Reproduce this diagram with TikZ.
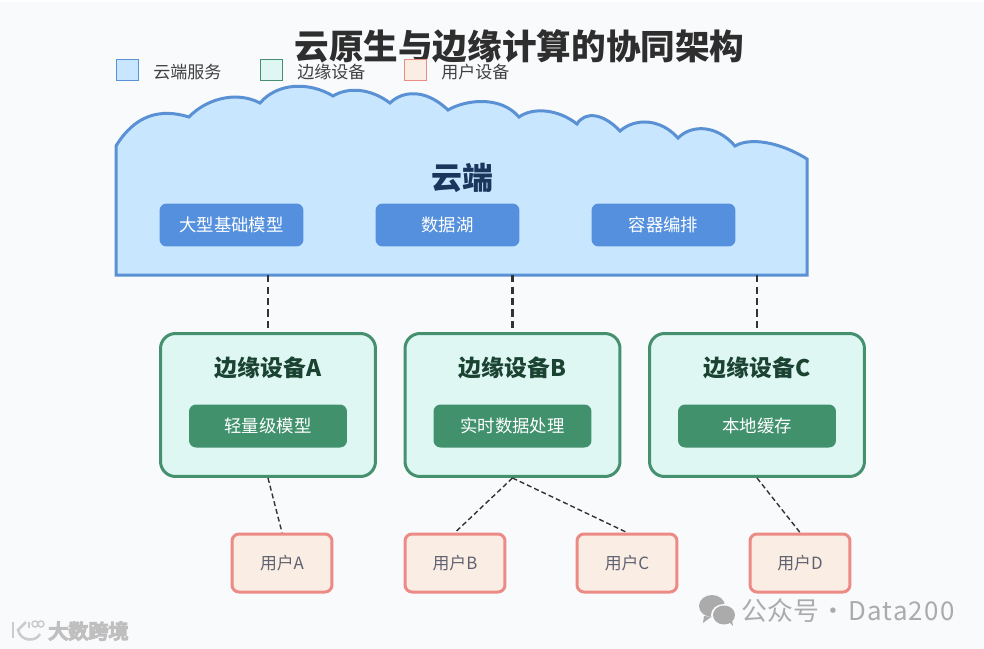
\documentclass[tikz,border=0pt]{standalone}
\usepackage{fontspec}
\setmainfont{Noto Sans CJK SC}
\definecolor{pagebg}{HTML}{F8FAFC}
\definecolor{cloudfill}{HTML}{C8E7FF}
\definecolor{cloudline}{HTML}{5A91D4}
\definecolor{cloudbox}{HTML}{5490DD}
\definecolor{cloudtext}{HTML}{1A365D}
\definecolor{edgefill}{HTML}{DFF7F3}
\definecolor{edgeline}{HTML}{44906F}
\definecolor{edgebox}{HTML}{40916C}
\definecolor{edgetext}{HTML}{1B4332}
\definecolor{userfill}{HTML}{FAEDE4}
\definecolor{userline}{HTML}{EC8A85}
\definecolor{usertext}{HTML}{5F6270}
\definecolor{marktext}{HTML}{ABABAB}
\definecolor{glowtext}{HTML}{CCCCCC}
\tikzset{
    legendbox/.style={draw,line width=0.035cm,minimum width=0.44cm,minimum height=0.42cm,inner sep=0pt},
    legendtext/.style={anchor=west,inner sep=0pt,text=black!75,font=\fontsize{9.7}{12}\selectfont},
    cloudtask/.style={fill=cloudbox,rounded corners=0.14cm,minimum width=2.88cm,minimum height=0.86cm,inner sep=0pt,text=white,font=\fontsize{9.9}{12}\selectfont},
    edgenode/.style={draw=edgeline,fill=edgefill,line width=0.06cm,rounded corners=0.3cm,minimum width=4.3cm,minimum height=2.86cm,inner sep=0pt},
    edgetitle/.style={inner sep=0pt,text=edgetext,font=\fontsize{13}{15}\selectfont\bfseries},
    edgetask/.style={fill=edgebox,rounded corners=0.14cm,minimum width=3.16cm,minimum height=0.86cm,inner sep=0pt,text=white,font=\fontsize{9.9}{12}\selectfont},
    usernode/.style={draw=userline,fill=userfill,line width=0.06cm,rounded corners=0.14cm,minimum width=2cm,minimum height=1.16cm,inner sep=0pt,text=usertext,font=\fontsize{9.6}{12}\selectfont},
    cloudlink/.style={draw=black!80,line width=0.055cm,dash pattern=on 0.146cm off 0.084cm},
    userlink/.style={draw=black!80,line width=0.028cm,dash pattern=on 0.1cm off 0.06cm}
}
\begin{document}
\begin{tikzpicture}[x=0.02cm,y=-0.02cm]
    \useasboundingbox (0,0) rectangle (984,649);
    \fill[white] (0,0) rectangle (984,649);
    \fill[pagebg] (0,2) rectangle (984,649);

    % title and legend
    \node[inner sep=0pt,text=black!82,font=\fontsize{19.7}{24}\selectfont\bfseries] (title) at (519.5,46) {云原生与边缘计算的协同架构};
    \node[legendbox,draw=cloudline,fill=cloudfill] (legendcloud) at (127.5,70) {};
    \node[legendtext] (legendcloudtext) at (153,72) {云端服务};
    \node[legendbox,draw=edgeline,fill=edgefill] (legendedge) at (271.5,70) {};
    \node[legendtext] (legendedgetext) at (297,72) {边缘设备};
    \node[legendbox,draw=userline,fill=userfill] (legenduser) at (415.5,70) {};
    \node[legendtext] (legendusertext) at (441,72) {用户设备};

    % cloud
    \draw[draw=cloudline,fill=cloudfill,line width=0.06cm] (116,146)
        .. controls (135,115) and (160,108) .. (189,117)
        .. controls (205,100) and (235,90) .. (260,103)
        .. controls (278,82) and (310,82) .. (333,96)
        .. controls (348,87) and (370,88) .. (390,103)
        .. controls (402,91) and (425,88) .. (448,110)
        .. controls (465,100) and (500,95) .. (519,117)
        .. controls (533,107) and (558,109) .. (577,124)
        .. controls (585,111) and (603,113) .. (620,131)
        .. controls (635,118) and (660,118) .. (678,138)
        .. controls (692,124) and (717,125) .. (735,146)
        .. controls (750,137) and (780,142) .. (807,159)
        -- (807,275) -- (116,275) -- cycle;
    \node[inner sep=0pt,text=cloudtext,font=\fontsize{17.6}{21}\selectfont\bfseries] (cloudtitle) at (462,178) {云端};
    \node[cloudtask] (model) at (231.5,225) {\raisebox{-0.5pt}{大型基础模型}};
    \node[cloudtask] (lake) at (447.5,225) {\raisebox{-0.5pt}{数据湖}};
    \node[cloudtask] (orchestrate) at (663.5,225) {\raisebox{-0.5pt}{容器编排}};
    \coordinate (cloudA) at (268,275);
    \coordinate (cloudB) at (512.5,275);
    \coordinate (cloudC) at (757,275);

    % edge devices
    \node[edgenode] (edgeA) at (268,405) {};
    \node[edgetitle] (edgetitleA) at (268,368) {边缘设备A};
    \node[edgetask] (taskA) at (268,426) {\raisebox{-0.5pt}{轻量级模型}};
    \node[edgenode] (edgeB) at (512.5,405) {};
    \node[edgetitle] (edgetitleB) at (512.5,368) {边缘设备B};
    \node[edgetask] (taskB) at (512.5,426) {\raisebox{-0.5pt}{实时数据处理}};
    \node[edgenode] (edgeC) at (757,405) {};
    \node[edgetitle] (edgetitleC) at (757,368) {边缘设备C};
    \node[edgetask] (taskC) at (757,426) {\raisebox{-0.5pt}{本地缓存}};

    % users
    \node[usernode] (userA) at (282,563) {用户A};
    \node[usernode] (userB) at (455,563) {用户B};
    \node[usernode] (userC) at (627,563) {用户C};
    \node[usernode] (userD) at (800,563) {用户D};

    % links
    \draw[cloudlink] (cloudA) -- (edgeA.north);
    \draw[cloudlink] (cloudB) -- (edgeB.north);
    \draw[cloudlink] (cloudC) -- (edgeC.north);
    \draw[userlink] (edgeA.south) -- (userA.north);
    \draw[userlink] (edgeB.south) -- (userB.north);
    \draw[userlink] (edgeB.south) -- (userC.north);
    \draw[userlink] (edgeC.south) -- (userD.north);

    % marks in the corners
    \fill[marktext] (712,606) ellipse (13 and 11);
    \fill[marktext] (704,616) -- (703,623) -- (711,617) -- cycle;
    \fill[pagebg] (724,615) ellipse (13 and 11);
    \fill[marktext] (724,615) ellipse (11 and 9.5);
    \fill[marktext] (729,622) -- (733,626) -- (732,619) -- cycle;
    \node[anchor=west,inner sep=0pt,text=marktext,font=\fontsize{14.7}{18}\selectfont] (markright) at (741,611) {公众号\hspace{0.7pt}·\hspace{1.3pt}{\addfontfeature{LetterSpace=5}Data200}};
    \draw[glowtext,line width=0.06cm] (13,622) -- (13,638);
    \draw[glowtext,line width=0.05cm] (26,622) -- (18,630) .. controls (21,642) and (36,642) .. (40,634);
    \draw[glowtext,line width=0.03cm] (29,622) -- (29,628);
    \draw[glowtext,line width=0.03cm] (35,624) circle (3);
    \draw[glowtext,line width=0.03cm] (41,624) circle (3);
    \node[anchor=west,inner sep=0pt,text=white,font=\fontsize{11.4}{14}\selectfont] (markleft) at (48,631) {\special{pdf:code 2 Tr 0.75 G 0.9 w}大数跨境\special{pdf:code 0 Tr 0 G 1 w}};
\end{tikzpicture}
\end{document}
